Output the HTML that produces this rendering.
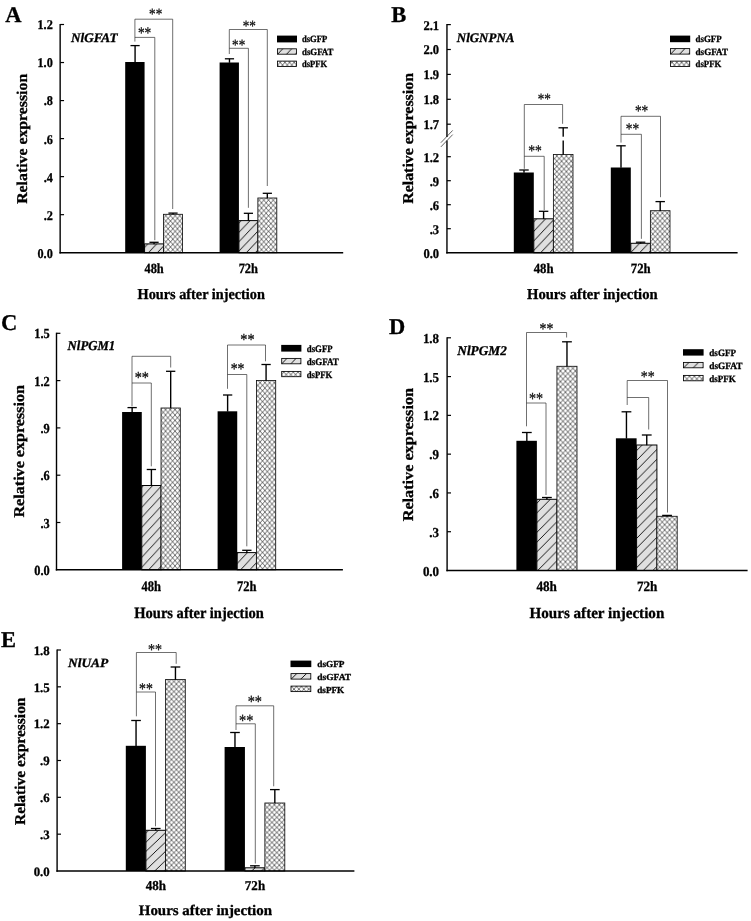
<!DOCTYPE html>
<html><head><meta charset="utf-8"><title>Figure</title>
<style>html,body{margin:0;padding:0;background:#fff}svg{display:block}</style></head><body>
<svg width="751" height="921" viewBox="0 0 751 921" font-family="'Liberation Serif',serif" font-weight="bold" text-rendering="geometricPrecision">
<rect width="751" height="921" fill="#fff"/>
<g id="panelA">
<pattern id="hA" patternUnits="userSpaceOnUse" width="8.90" height="9.40" patternTransform="translate(239.16,222.7)"><rect width="8.90" height="9.40" fill="#e0e0e0"/><path d="M-8.90 18.80L17.80 -9.40M0 18.80L26.70 -9.40M-17.80 18.80L8.90 -9.40" stroke="#000" stroke-width="0.9" fill="none"/></pattern>
<pattern id="cA" patternUnits="userSpaceOnUse" width="4.67" height="5.20" patternTransform="translate(0,0)"><rect width="4.67" height="5.20" fill="#fff"/><path d="M0 0L4.67 5.20M4.67 0L0 5.20" stroke="#2a2a2a" stroke-width="0.68" fill="none"/></pattern>
<text x="5.30" y="22.00" font-size="22.5" stroke="#000" stroke-width="0.3" fill="#000">A</text>
<text x="70.90" y="41.65" font-size="13.1" stroke="#000" stroke-width="0.3" font-style="italic" textLength="46.70" lengthAdjust="spacingAndGlyphs" fill="#000">NlGFAT</text>
<rect x="125.20" y="62.00" width="19.37" height="190.70" fill="#000"/>
<rect x="144.57" y="243.90" width="18.97" height="8.80" fill="url(#hA)" stroke="#000" stroke-width="1"/>
<rect x="163.53" y="214.30" width="18.97" height="38.40" fill="url(#cA)" stroke="#111" stroke-width="0.85"/>
<line x1="135.08" y1="45.60" x2="135.08" y2="62.30" stroke="#000" stroke-width="1.4" />
<line x1="130.48" y1="45.60" x2="139.68" y2="45.60" stroke="#000" stroke-width="1.3" />
<line x1="154.05" y1="242.30" x2="154.05" y2="244.20" stroke="#000" stroke-width="1.4" />
<line x1="149.45" y1="242.30" x2="158.65" y2="242.30" stroke="#000" stroke-width="1.3" />
<line x1="173.02" y1="213.10" x2="173.02" y2="214.60" stroke="#000" stroke-width="1.4" />
<line x1="168.42" y1="213.10" x2="177.62" y2="213.10" stroke="#000" stroke-width="1.3" />
<line x1="134.90" y1="19.20" x2="134.90" y2="41.60" stroke="#222" stroke-width="0.65" />
<polyline points="134.90,19.20 172.70,19.20 172.70,209.00" fill="none" stroke="#222" stroke-width="0.65"/>
<polyline points="134.90,37.40 154.80,37.40 154.80,240.20" fill="none" stroke="#222" stroke-width="0.65"/>
<text x="144.60" y="38.22" font-size="16.00" font-weight="normal" text-anchor="middle" textLength="13.40" lengthAdjust="spacingAndGlyphs" fill="#111" stroke="#111" stroke-width="0.3">**</text>
<text x="155.70" y="19.25" font-size="15.75" font-weight="normal" text-anchor="middle" textLength="13.19" lengthAdjust="spacingAndGlyphs" fill="#111" stroke="#111" stroke-width="0.3">**</text>
<rect x="219.60" y="62.50" width="19.33" height="190.20" fill="#000"/>
<rect x="238.93" y="220.60" width="18.93" height="32.10" fill="url(#hA)" stroke="#000" stroke-width="1"/>
<rect x="257.87" y="198.00" width="18.93" height="54.70" fill="url(#cA)" stroke="#111" stroke-width="0.85"/>
<line x1="229.47" y1="58.80" x2="229.47" y2="62.80" stroke="#000" stroke-width="1.4" />
<line x1="224.87" y1="58.80" x2="234.07" y2="58.80" stroke="#000" stroke-width="1.3" />
<line x1="248.40" y1="213.30" x2="248.40" y2="220.90" stroke="#000" stroke-width="1.4" />
<line x1="243.80" y1="213.30" x2="253.00" y2="213.30" stroke="#000" stroke-width="1.3" />
<line x1="267.33" y1="193.30" x2="267.33" y2="198.30" stroke="#000" stroke-width="1.4" />
<line x1="262.73" y1="193.30" x2="271.93" y2="193.30" stroke="#000" stroke-width="1.3" />
<line x1="229.30" y1="29.50" x2="229.30" y2="54.00" stroke="#222" stroke-width="0.65" />
<polyline points="229.30,29.50 267.30,29.50 267.30,186.00" fill="none" stroke="#222" stroke-width="0.65"/>
<polyline points="229.30,48.30 248.40,48.30 248.40,207.80" fill="none" stroke="#222" stroke-width="0.65"/>
<text x="238.70" y="50.45" font-size="15.75" font-weight="normal" text-anchor="middle" textLength="13.19" lengthAdjust="spacingAndGlyphs" fill="#111" stroke="#111" stroke-width="0.3">**</text>
<text x="249.30" y="31.45" font-size="15.75" font-weight="normal" text-anchor="middle" textLength="13.19" lengthAdjust="spacingAndGlyphs" fill="#111" stroke="#111" stroke-width="0.3">**</text>
<line x1="60.15" y1="23.90" x2="60.15" y2="253.40" stroke="#000" stroke-width="1.4" />
<line x1="59.45" y1="252.70" x2="343.20" y2="252.70" stroke="#000" stroke-width="1.4" />
<line x1="60.15" y1="24.50" x2="64.05" y2="24.50" stroke="#000" stroke-width="1.2" />
<text x="52.80" y="29.40" font-size="13.4" stroke="#000" stroke-width="0.3" text-anchor="end" textLength="15.27" lengthAdjust="spacingAndGlyphs" fill="#000">1.2</text>
<line x1="60.15" y1="62.53" x2="64.05" y2="62.53" stroke="#000" stroke-width="1.2" />
<text x="52.80" y="67.43" font-size="13.4" stroke="#000" stroke-width="0.3" text-anchor="end" textLength="15.27" lengthAdjust="spacingAndGlyphs" fill="#000">1.0</text>
<line x1="60.15" y1="100.57" x2="64.05" y2="100.57" stroke="#000" stroke-width="1.2" />
<text x="52.80" y="105.47" font-size="13.4" stroke="#000" stroke-width="0.3" text-anchor="end" textLength="9.16" lengthAdjust="spacingAndGlyphs" fill="#000">.8</text>
<line x1="60.15" y1="138.60" x2="64.05" y2="138.60" stroke="#000" stroke-width="1.2" />
<text x="52.80" y="143.50" font-size="13.4" stroke="#000" stroke-width="0.3" text-anchor="end" textLength="9.16" lengthAdjust="spacingAndGlyphs" fill="#000">.6</text>
<line x1="60.15" y1="176.63" x2="64.05" y2="176.63" stroke="#000" stroke-width="1.2" />
<text x="52.80" y="181.53" font-size="13.4" stroke="#000" stroke-width="0.3" text-anchor="end" textLength="9.16" lengthAdjust="spacingAndGlyphs" fill="#000">.4</text>
<line x1="60.15" y1="214.67" x2="64.05" y2="214.67" stroke="#000" stroke-width="1.2" />
<text x="52.80" y="219.57" font-size="13.4" stroke="#000" stroke-width="0.3" text-anchor="end" textLength="9.16" lengthAdjust="spacingAndGlyphs" fill="#000">.2</text>
<text x="52.80" y="257.60" font-size="13.4" stroke="#000" stroke-width="0.3" text-anchor="end" textLength="15.27" lengthAdjust="spacingAndGlyphs" fill="#000">0.0</text>
<text x="154.10" y="273.00" font-size="14.0" stroke="#000" stroke-width="0.3" text-anchor="middle" textLength="19.30" lengthAdjust="spacingAndGlyphs" fill="#000">48h</text>
<text x="248.30" y="273.00" font-size="14.0" stroke="#000" stroke-width="0.3" text-anchor="middle" textLength="19.30" lengthAdjust="spacingAndGlyphs" fill="#000">72h</text>
<text x="137.60" y="298.80" font-size="15.1" stroke="#000" stroke-width="0.3" textLength="127.30" lengthAdjust="spacingAndGlyphs" fill="#000">Hours after injection</text>
<text transform="translate(27.10,203.80) rotate(-90)" font-size="15" stroke="#000" stroke-width="0.3" textLength="130.00" lengthAdjust="spacingAndGlyphs" fill="#000">Relative expression</text>
<rect x="277.00" y="35.60" width="20.00" height="6.80" fill="#000"/>
<text x="302.00" y="42.20" font-size="9.5" stroke="#000" stroke-width="0.3" textLength="25.30" lengthAdjust="spacingAndGlyphs" fill="#000">dsGFP</text>
<pattern id="hlA" patternUnits="userSpaceOnUse" width="8.90" height="9.40" patternTransform="translate(277.90,44.50)"><rect width="8.90" height="9.40" fill="#e0e0e0"/><path d="M-8.90 18.80L17.80 -9.40M0 18.80L26.70 -9.40M-17.80 18.80L8.90 -9.40" stroke="#000" stroke-width="0.9" fill="none"/></pattern>
<rect x="277.50" y="48.80" width="19.00" height="5.40" fill="url(#hlA)" stroke="#000" stroke-width="0.85"/>
<text x="302.00" y="54.90" font-size="9.5" stroke="#000" stroke-width="0.3" textLength="31.40" lengthAdjust="spacingAndGlyphs" fill="#000">dsGFAT</text>
<rect x="277.50" y="61.10" width="19.00" height="5.40" fill="url(#cA)" stroke="#000" stroke-width="0.85"/>
<text x="302.00" y="67.20" font-size="9.5" stroke="#000" stroke-width="0.3" textLength="25.00" lengthAdjust="spacingAndGlyphs" fill="#000">dsPFK</text>
</g>
<g id="panelB">
<pattern id="hB" patternUnits="userSpaceOnUse" width="9.00" height="9.57" patternTransform="translate(534.07,221.5)"><rect width="9.00" height="9.57" fill="#e0e0e0"/><path d="M-9.00 19.14L18.00 -9.57M0 19.14L27.00 -9.57M-18.00 19.14L9.00 -9.57" stroke="#000" stroke-width="0.9" fill="none"/></pattern>
<pattern id="cB" patternUnits="userSpaceOnUse" width="4.80" height="5.20" patternTransform="translate(0,0)"><rect width="4.80" height="5.20" fill="#fff"/><path d="M0 0L4.80 5.20M4.80 0L0 5.20" stroke="#2a2a2a" stroke-width="0.68" fill="none"/></pattern>
<text x="391.30" y="22.00" font-size="22.5" stroke="#000" stroke-width="0.3" fill="#000">B</text>
<text x="456.80" y="41.65" font-size="13.1" stroke="#000" stroke-width="0.3" font-style="italic" textLength="57.60" lengthAdjust="spacingAndGlyphs" fill="#000">NlGNPNA</text>
<rect x="513.80" y="172.50" width="20.00" height="80.20" fill="#000"/>
<rect x="533.80" y="218.80" width="19.60" height="33.90" fill="url(#hB)" stroke="#000" stroke-width="1"/>
<rect x="553.40" y="154.50" width="19.60" height="98.20" fill="url(#cB)" stroke="#111" stroke-width="0.85"/>
<line x1="524.00" y1="170.00" x2="524.00" y2="172.80" stroke="#000" stroke-width="1.4" />
<line x1="519.28" y1="170.00" x2="528.72" y2="170.00" stroke="#000" stroke-width="1.3" />
<line x1="543.60" y1="211.30" x2="543.60" y2="219.10" stroke="#000" stroke-width="1.4" />
<line x1="538.88" y1="211.30" x2="548.32" y2="211.30" stroke="#000" stroke-width="1.3" />
<line x1="563.20" y1="127.80" x2="563.20" y2="154.80" stroke="#000" stroke-width="1.4" />
<line x1="558.48" y1="127.80" x2="567.92" y2="127.80" stroke="#000" stroke-width="1.3" />
<line x1="524.30" y1="104.50" x2="524.30" y2="168.80" stroke="#222" stroke-width="0.65" />
<polyline points="524.30,104.50 562.60,104.50 562.60,123.80" fill="none" stroke="#222" stroke-width="0.65"/>
<polyline points="524.30,156.30 544.20,156.30 544.20,210.00" fill="none" stroke="#222" stroke-width="0.65"/>
<text x="535.00" y="156.39" font-size="16.25" font-weight="normal" text-anchor="middle" textLength="13.61" lengthAdjust="spacingAndGlyphs" fill="#111" stroke="#111" stroke-width="0.3">**</text>
<text x="544.30" y="104.25" font-size="15.75" font-weight="normal" text-anchor="middle" textLength="13.19" lengthAdjust="spacingAndGlyphs" fill="#111" stroke="#111" stroke-width="0.3">**</text>
<rect x="610.80" y="167.50" width="20.00" height="85.20" fill="#000"/>
<rect x="630.80" y="243.30" width="19.60" height="9.40" fill="url(#hB)" stroke="#000" stroke-width="1"/>
<rect x="650.40" y="210.70" width="19.60" height="42.00" fill="url(#cB)" stroke="#111" stroke-width="0.85"/>
<line x1="621.00" y1="145.80" x2="621.00" y2="167.80" stroke="#000" stroke-width="1.4" />
<line x1="616.28" y1="145.80" x2="625.72" y2="145.80" stroke="#000" stroke-width="1.3" />
<line x1="640.60" y1="242.20" x2="640.60" y2="243.60" stroke="#000" stroke-width="1.4" />
<line x1="635.88" y1="242.20" x2="645.32" y2="242.20" stroke="#000" stroke-width="1.3" />
<line x1="660.20" y1="201.60" x2="660.20" y2="211.00" stroke="#000" stroke-width="1.4" />
<line x1="655.48" y1="201.60" x2="664.92" y2="201.60" stroke="#000" stroke-width="1.3" />
<line x1="621.00" y1="116.30" x2="621.00" y2="142.60" stroke="#222" stroke-width="0.65" />
<polyline points="621.00,116.30 660.50,116.30 660.50,197.20" fill="none" stroke="#222" stroke-width="0.65"/>
<polyline points="621.00,134.30 641.40,134.30 641.40,238.80" fill="none" stroke="#222" stroke-width="0.65"/>
<text x="632.40" y="133.82" font-size="16.00" font-weight="normal" text-anchor="middle" textLength="13.40" lengthAdjust="spacingAndGlyphs" fill="#111" stroke="#111" stroke-width="0.3">**</text>
<text x="641.60" y="116.32" font-size="16.00" font-weight="normal" text-anchor="middle" textLength="13.40" lengthAdjust="spacingAndGlyphs" fill="#111" stroke="#111" stroke-width="0.3">**</text>
<line x1="446.95" y1="24.00" x2="446.95" y2="137.00" stroke="#000" stroke-width="1.4" />
<line x1="446.95" y1="140.50" x2="446.95" y2="253.40" stroke="#000" stroke-width="1.4" />
<line x1="446.25" y1="252.70" x2="737.60" y2="252.70" stroke="#000" stroke-width="1.4" />
<rect x="561.20" y="136.70" width="4" height="3.80" fill="#fff"/>
<line x1="440.90" y1="142.70" x2="452.70" y2="130.40" stroke="#222" stroke-width="0.7" />
<line x1="440.90" y1="146.90" x2="452.70" y2="134.60" stroke="#222" stroke-width="0.7" />
<line x1="446.95" y1="24.60" x2="450.85" y2="24.60" stroke="#000" stroke-width="1.2" />
<text x="439.10" y="29.50" font-size="13.4" stroke="#000" stroke-width="0.3" text-anchor="end" textLength="15.69" lengthAdjust="spacingAndGlyphs" fill="#000">2.1</text>
<line x1="446.95" y1="49.50" x2="450.85" y2="49.50" stroke="#000" stroke-width="1.2" />
<text x="439.10" y="54.40" font-size="13.4" stroke="#000" stroke-width="0.3" text-anchor="end" textLength="15.69" lengthAdjust="spacingAndGlyphs" fill="#000">2.0</text>
<line x1="446.95" y1="74.40" x2="450.85" y2="74.40" stroke="#000" stroke-width="1.2" />
<text x="439.10" y="79.30" font-size="13.4" stroke="#000" stroke-width="0.3" text-anchor="end" textLength="15.69" lengthAdjust="spacingAndGlyphs" fill="#000">1.9</text>
<line x1="446.95" y1="99.30" x2="450.85" y2="99.30" stroke="#000" stroke-width="1.2" />
<text x="439.10" y="104.20" font-size="13.4" stroke="#000" stroke-width="0.3" text-anchor="end" textLength="15.69" lengthAdjust="spacingAndGlyphs" fill="#000">1.8</text>
<line x1="446.95" y1="124.20" x2="450.85" y2="124.20" stroke="#000" stroke-width="1.2" />
<text x="439.10" y="129.10" font-size="13.4" stroke="#000" stroke-width="0.3" text-anchor="end" textLength="15.69" lengthAdjust="spacingAndGlyphs" fill="#000">1.7</text>
<line x1="446.95" y1="156.70" x2="450.85" y2="156.70" stroke="#000" stroke-width="1.2" />
<text x="439.10" y="161.60" font-size="13.4" stroke="#000" stroke-width="0.3" text-anchor="end" textLength="15.69" lengthAdjust="spacingAndGlyphs" fill="#000">1.2</text>
<line x1="446.95" y1="180.70" x2="450.85" y2="180.70" stroke="#000" stroke-width="1.2" />
<text x="439.10" y="185.60" font-size="13.4" stroke="#000" stroke-width="0.3" text-anchor="end" textLength="9.41" lengthAdjust="spacingAndGlyphs" fill="#000">.9</text>
<line x1="446.95" y1="204.70" x2="450.85" y2="204.70" stroke="#000" stroke-width="1.2" />
<text x="439.10" y="209.60" font-size="13.4" stroke="#000" stroke-width="0.3" text-anchor="end" textLength="9.41" lengthAdjust="spacingAndGlyphs" fill="#000">.6</text>
<line x1="446.95" y1="228.70" x2="450.85" y2="228.70" stroke="#000" stroke-width="1.2" />
<text x="439.10" y="233.60" font-size="13.4" stroke="#000" stroke-width="0.3" text-anchor="end" textLength="9.41" lengthAdjust="spacingAndGlyphs" fill="#000">.3</text>
<text x="439.10" y="257.60" font-size="13.4" stroke="#000" stroke-width="0.3" text-anchor="end" textLength="15.69" lengthAdjust="spacingAndGlyphs" fill="#000">0.0</text>
<text x="543.60" y="273.00" font-size="14.0" stroke="#000" stroke-width="0.3" text-anchor="middle" textLength="19.82" lengthAdjust="spacingAndGlyphs" fill="#000">48h</text>
<text x="640.70" y="273.00" font-size="14.0" stroke="#000" stroke-width="0.3" text-anchor="middle" textLength="19.82" lengthAdjust="spacingAndGlyphs" fill="#000">72h</text>
<text x="527.00" y="298.80" font-size="15.1" stroke="#000" stroke-width="0.3" textLength="130.60" lengthAdjust="spacingAndGlyphs" fill="#000">Hours after injection</text>
<text transform="translate(413.00,203.80) rotate(-90)" font-size="15" stroke="#000" stroke-width="0.3" textLength="130.80" lengthAdjust="spacingAndGlyphs" fill="#000">Relative expression</text>
<rect x="670.00" y="35.60" width="20.20" height="6.60" fill="#000"/>
<text x="695.60" y="42.20" font-size="9.5" stroke="#000" stroke-width="0.3" textLength="26.06" lengthAdjust="spacingAndGlyphs" fill="#000">dsGFP</text>
<pattern id="hlB" patternUnits="userSpaceOnUse" width="9.00" height="9.57" patternTransform="translate(670.90,44.23)"><rect width="9.00" height="9.57" fill="#e0e0e0"/><path d="M-9.00 19.14L18.00 -9.57M0 19.14L27.00 -9.57M-18.00 19.14L9.00 -9.57" stroke="#000" stroke-width="0.9" fill="none"/></pattern>
<rect x="670.50" y="48.60" width="19.20" height="5.50" fill="url(#hlB)" stroke="#000" stroke-width="0.85"/>
<text x="695.60" y="54.80" font-size="9.5" stroke="#000" stroke-width="0.3" textLength="32.34" lengthAdjust="spacingAndGlyphs" fill="#000">dsGFAT</text>
<rect x="670.50" y="61.10" width="19.20" height="5.40" fill="url(#cB)" stroke="#000" stroke-width="0.85"/>
<text x="695.60" y="67.20" font-size="9.5" stroke="#000" stroke-width="0.3" textLength="25.75" lengthAdjust="spacingAndGlyphs" fill="#000">dsPFK</text>
</g>
<g id="panelC">
<pattern id="hC" patternUnits="userSpaceOnUse" width="9.20" height="10.00" patternTransform="translate(141.8,487.3)"><rect width="9.20" height="10.00" fill="#e0e0e0"/><path d="M-9.20 20.00L18.40 -10.00M0 20.00L27.60 -10.00M-18.40 20.00L9.20 -10.00" stroke="#000" stroke-width="0.9" fill="none"/></pattern>
<pattern id="cC" patternUnits="userSpaceOnUse" width="4.73" height="5.39" patternTransform="translate(0,0)"><rect width="4.73" height="5.39" fill="#fff"/><path d="M0 0L4.73 5.39M4.73 0L0 5.39" stroke="#2a2a2a" stroke-width="0.68" fill="none"/></pattern>
<text x="0.90" y="329.80" font-size="22.5" stroke="#000" stroke-width="0.3" fill="#000">C</text>
<text x="67.60" y="350.25" font-size="13.57" stroke="#000" stroke-width="0.3" font-style="italic" textLength="47.60" lengthAdjust="spacingAndGlyphs" fill="#000">NlPGM1</text>
<rect x="122.10" y="412.00" width="19.67" height="157.80" fill="#000"/>
<rect x="141.77" y="485.50" width="19.27" height="84.30" fill="url(#hC)" stroke="#000" stroke-width="1"/>
<rect x="161.03" y="408.00" width="19.27" height="161.80" fill="url(#cC)" stroke="#111" stroke-width="0.85"/>
<line x1="132.13" y1="407.60" x2="132.13" y2="412.30" stroke="#000" stroke-width="1.4" />
<line x1="127.48" y1="407.60" x2="136.79" y2="407.60" stroke="#000" stroke-width="1.3" />
<line x1="151.40" y1="469.50" x2="151.40" y2="485.80" stroke="#000" stroke-width="1.4" />
<line x1="146.74" y1="469.50" x2="156.06" y2="469.50" stroke="#000" stroke-width="1.3" />
<line x1="170.67" y1="371.30" x2="170.67" y2="408.30" stroke="#000" stroke-width="1.4" />
<line x1="166.01" y1="371.30" x2="175.32" y2="371.30" stroke="#000" stroke-width="1.3" />
<line x1="132.00" y1="356.30" x2="132.00" y2="406.30" stroke="#222" stroke-width="0.65" />
<polyline points="132.00,356.30 170.70,356.30 170.70,367.50" fill="none" stroke="#222" stroke-width="0.65"/>
<polyline points="132.00,383.00 151.30,383.00 151.30,466.30" fill="none" stroke="#222" stroke-width="0.65"/>
<text x="141.80" y="383.49" font-size="17.00" font-weight="normal" text-anchor="middle" textLength="14.24" lengthAdjust="spacingAndGlyphs" fill="#111" stroke="#111" stroke-width="0.3">**</text>
<rect x="217.60" y="411.30" width="19.63" height="158.50" fill="#000"/>
<rect x="237.23" y="552.60" width="19.23" height="17.20" fill="url(#hC)" stroke="#000" stroke-width="1"/>
<rect x="256.47" y="380.50" width="19.23" height="189.30" fill="url(#cC)" stroke="#111" stroke-width="0.85"/>
<line x1="227.62" y1="395.00" x2="227.62" y2="411.60" stroke="#000" stroke-width="1.4" />
<line x1="222.96" y1="395.00" x2="232.27" y2="395.00" stroke="#000" stroke-width="1.3" />
<line x1="246.85" y1="550.30" x2="246.85" y2="552.90" stroke="#000" stroke-width="1.4" />
<line x1="242.19" y1="550.30" x2="251.51" y2="550.30" stroke="#000" stroke-width="1.3" />
<line x1="266.08" y1="364.50" x2="266.08" y2="380.80" stroke="#000" stroke-width="1.4" />
<line x1="261.43" y1="364.50" x2="270.74" y2="364.50" stroke="#000" stroke-width="1.3" />
<line x1="227.50" y1="345.00" x2="227.50" y2="388.80" stroke="#222" stroke-width="0.65" />
<polyline points="227.50,345.00 265.50,345.00 265.50,361.30" fill="none" stroke="#222" stroke-width="0.65"/>
<polyline points="227.50,374.50 246.80,374.50 246.80,546.30" fill="none" stroke="#222" stroke-width="0.65"/>
<text x="237.60" y="374.45" font-size="16.50" font-weight="normal" text-anchor="middle" textLength="13.82" lengthAdjust="spacingAndGlyphs" fill="#111" stroke="#111" stroke-width="0.3">**</text>
<text x="247.40" y="345.09" font-size="17.00" font-weight="normal" text-anchor="middle" textLength="14.24" lengthAdjust="spacingAndGlyphs" fill="#111" stroke="#111" stroke-width="0.3">**</text>
<line x1="56.50" y1="332.70" x2="56.50" y2="570.50" stroke="#000" stroke-width="1.4" />
<line x1="55.80" y1="569.80" x2="342.90" y2="569.80" stroke="#000" stroke-width="1.4" />
<line x1="56.50" y1="333.30" x2="60.40" y2="333.30" stroke="#000" stroke-width="1.2" />
<text x="49.70" y="338.38" font-size="13.88" stroke="#000" stroke-width="0.3" text-anchor="end" textLength="15.46" lengthAdjust="spacingAndGlyphs" fill="#000">1.5</text>
<line x1="56.50" y1="380.60" x2="60.40" y2="380.60" stroke="#000" stroke-width="1.2" />
<text x="49.70" y="385.68" font-size="13.88" stroke="#000" stroke-width="0.3" text-anchor="end" textLength="15.46" lengthAdjust="spacingAndGlyphs" fill="#000">1.2</text>
<line x1="56.50" y1="427.90" x2="60.40" y2="427.90" stroke="#000" stroke-width="1.2" />
<text x="49.70" y="432.98" font-size="13.88" stroke="#000" stroke-width="0.3" text-anchor="end" textLength="9.27" lengthAdjust="spacingAndGlyphs" fill="#000">.9</text>
<line x1="56.50" y1="475.20" x2="60.40" y2="475.20" stroke="#000" stroke-width="1.2" />
<text x="49.70" y="480.28" font-size="13.88" stroke="#000" stroke-width="0.3" text-anchor="end" textLength="9.27" lengthAdjust="spacingAndGlyphs" fill="#000">.6</text>
<line x1="56.50" y1="522.50" x2="60.40" y2="522.50" stroke="#000" stroke-width="1.2" />
<text x="49.70" y="527.58" font-size="13.88" stroke="#000" stroke-width="0.3" text-anchor="end" textLength="9.27" lengthAdjust="spacingAndGlyphs" fill="#000">.3</text>
<text x="49.70" y="574.88" font-size="13.88" stroke="#000" stroke-width="0.3" text-anchor="end" textLength="15.46" lengthAdjust="spacingAndGlyphs" fill="#000">0.0</text>
<text x="151.20" y="590.50" font-size="14.5" stroke="#000" stroke-width="0.3" text-anchor="middle" textLength="19.53" lengthAdjust="spacingAndGlyphs" fill="#000">48h</text>
<text x="246.70" y="590.50" font-size="14.5" stroke="#000" stroke-width="0.3" text-anchor="middle" textLength="19.53" lengthAdjust="spacingAndGlyphs" fill="#000">72h</text>
<text x="134.30" y="617.50" font-size="15.64" stroke="#000" stroke-width="0.3" textLength="129.50" lengthAdjust="spacingAndGlyphs" fill="#000">Hours after injection</text>
<text transform="translate(24.40,517.50) rotate(-90)" font-size="15" stroke="#000" stroke-width="0.3" textLength="132.50" lengthAdjust="spacingAndGlyphs" fill="#000">Relative expression</text>
<rect x="281.20" y="344.90" width="20.20" height="6.70" fill="#000"/>
<text x="306.80" y="351.50" font-size="9.84" stroke="#000" stroke-width="0.3" textLength="25.81" lengthAdjust="spacingAndGlyphs" fill="#000">dsGFP</text>
<pattern id="hlC" patternUnits="userSpaceOnUse" width="9.20" height="10.00" patternTransform="translate(282.10,353.50)"><rect width="9.20" height="10.00" fill="#e0e0e0"/><path d="M-9.20 20.00L18.40 -10.00M0 20.00L27.60 -10.00M-18.40 20.00L9.20 -10.00" stroke="#000" stroke-width="0.9" fill="none"/></pattern>
<rect x="281.70" y="358.40" width="19.20" height="5.40" fill="url(#hlC)" stroke="#000" stroke-width="0.85"/>
<text x="306.80" y="364.50" font-size="9.84" stroke="#000" stroke-width="0.3" textLength="32.03" lengthAdjust="spacingAndGlyphs" fill="#000">dsGFAT</text>
<rect x="281.70" y="371.40" width="19.20" height="5.30" fill="url(#cC)" stroke="#000" stroke-width="0.85"/>
<text x="306.80" y="377.50" font-size="9.84" stroke="#000" stroke-width="0.3" textLength="25.50" lengthAdjust="spacingAndGlyphs" fill="#000">dsPFK</text>
</g>
<g id="panelD">
<pattern id="hD" patternUnits="userSpaceOnUse" width="9.60" height="9.75" patternTransform="translate(637.0,450.2)"><rect width="9.60" height="9.75" fill="#e0e0e0"/><path d="M-9.60 19.50L19.20 -9.75M0 19.50L28.80 -9.75M-19.20 19.50L9.60 -9.75" stroke="#000" stroke-width="0.9" fill="none"/></pattern>
<pattern id="cD" patternUnits="userSpaceOnUse" width="4.96" height="5.30" patternTransform="translate(0,0)"><rect width="4.96" height="5.30" fill="#fff"/><path d="M0 0L4.96 5.30M4.96 0L0 5.30" stroke="#2a2a2a" stroke-width="0.68" fill="none"/></pattern>
<text x="388.90" y="334.40" font-size="22.5" stroke="#000" stroke-width="0.3" fill="#000">D</text>
<text x="457.30" y="355.25" font-size="13.36" stroke="#000" stroke-width="0.3" font-style="italic" textLength="49.50" lengthAdjust="spacingAndGlyphs" fill="#000">NlPGM2</text>
<rect x="516.40" y="440.80" width="20.47" height="129.70" fill="#000"/>
<rect x="536.87" y="499.30" width="20.07" height="71.20" fill="url(#hD)" stroke="#000" stroke-width="1"/>
<rect x="556.93" y="366.30" width="20.07" height="204.20" fill="url(#cD)" stroke="#111" stroke-width="0.85"/>
<line x1="526.83" y1="432.50" x2="526.83" y2="441.10" stroke="#000" stroke-width="1.4" />
<line x1="521.95" y1="432.50" x2="531.72" y2="432.50" stroke="#000" stroke-width="1.3" />
<line x1="546.90" y1="497.50" x2="546.90" y2="499.60" stroke="#000" stroke-width="1.4" />
<line x1="542.01" y1="497.50" x2="551.79" y2="497.50" stroke="#000" stroke-width="1.3" />
<line x1="566.97" y1="341.80" x2="566.97" y2="366.60" stroke="#000" stroke-width="1.4" />
<line x1="562.08" y1="341.80" x2="571.85" y2="341.80" stroke="#000" stroke-width="1.3" />
<line x1="526.50" y1="332.50" x2="526.50" y2="426.30" stroke="#222" stroke-width="0.65" />
<polyline points="526.50,332.50 566.60,332.50 566.60,337.50" fill="none" stroke="#222" stroke-width="0.65"/>
<polyline points="526.50,403.00 546.00,403.00 546.00,495.00" fill="none" stroke="#222" stroke-width="0.65"/>
<text x="536.05" y="404.06" font-size="16.88" font-weight="normal" text-anchor="middle" textLength="14.13" lengthAdjust="spacingAndGlyphs" fill="#111" stroke="#111" stroke-width="0.3">**</text>
<text x="546.40" y="333.76" font-size="16.50" font-weight="normal" text-anchor="middle" textLength="13.82" lengthAdjust="spacingAndGlyphs" fill="#111" stroke="#111" stroke-width="0.3">**</text>
<rect x="615.90" y="438.30" width="20.70" height="132.20" fill="#000"/>
<rect x="636.60" y="445.00" width="20.30" height="125.50" fill="url(#hD)" stroke="#000" stroke-width="1"/>
<rect x="656.90" y="516.30" width="20.30" height="54.20" fill="url(#cD)" stroke="#111" stroke-width="0.85"/>
<line x1="626.45" y1="411.80" x2="626.45" y2="438.60" stroke="#000" stroke-width="1.4" />
<line x1="621.56" y1="411.80" x2="631.34" y2="411.80" stroke="#000" stroke-width="1.3" />
<line x1="646.75" y1="435.00" x2="646.75" y2="445.30" stroke="#000" stroke-width="1.4" />
<line x1="641.86" y1="435.00" x2="651.64" y2="435.00" stroke="#000" stroke-width="1.3" />
<line x1="667.05" y1="515.40" x2="667.05" y2="516.60" stroke="#000" stroke-width="1.4" />
<line x1="662.16" y1="515.40" x2="671.94" y2="515.40" stroke="#000" stroke-width="1.3" />
<line x1="627.20" y1="380.50" x2="627.20" y2="405.00" stroke="#222" stroke-width="0.65" />
<polyline points="627.20,380.50 667.50,380.50 667.50,512.50" fill="none" stroke="#222" stroke-width="0.65"/>
<polyline points="627.20,397.50 648.70,397.50 648.70,429.50" fill="none" stroke="#222" stroke-width="0.65"/>
<text x="647.65" y="382.49" font-size="16.62" font-weight="normal" text-anchor="middle" textLength="13.92" lengthAdjust="spacingAndGlyphs" fill="#111" stroke="#111" stroke-width="0.3">**</text>
<line x1="447.10" y1="337.20" x2="447.10" y2="571.20" stroke="#000" stroke-width="1.4" />
<line x1="446.40" y1="570.50" x2="747.60" y2="570.50" stroke="#000" stroke-width="1.4" />
<line x1="447.10" y1="337.80" x2="451.00" y2="337.80" stroke="#000" stroke-width="1.2" />
<text x="439.10" y="342.80" font-size="13.67" stroke="#000" stroke-width="0.3" text-anchor="end" textLength="16.22" lengthAdjust="spacingAndGlyphs" fill="#000">1.8</text>
<line x1="447.10" y1="376.58" x2="451.00" y2="376.58" stroke="#000" stroke-width="1.2" />
<text x="439.10" y="381.58" font-size="13.67" stroke="#000" stroke-width="0.3" text-anchor="end" textLength="16.22" lengthAdjust="spacingAndGlyphs" fill="#000">1.5</text>
<line x1="447.10" y1="415.37" x2="451.00" y2="415.37" stroke="#000" stroke-width="1.2" />
<text x="439.10" y="420.36" font-size="13.67" stroke="#000" stroke-width="0.3" text-anchor="end" textLength="16.22" lengthAdjust="spacingAndGlyphs" fill="#000">1.2</text>
<line x1="447.10" y1="454.15" x2="451.00" y2="454.15" stroke="#000" stroke-width="1.2" />
<text x="439.10" y="459.15" font-size="13.67" stroke="#000" stroke-width="0.3" text-anchor="end" textLength="9.73" lengthAdjust="spacingAndGlyphs" fill="#000">.9</text>
<line x1="447.10" y1="492.93" x2="451.00" y2="492.93" stroke="#000" stroke-width="1.2" />
<text x="439.10" y="497.93" font-size="13.67" stroke="#000" stroke-width="0.3" text-anchor="end" textLength="9.73" lengthAdjust="spacingAndGlyphs" fill="#000">.6</text>
<line x1="447.10" y1="531.72" x2="451.00" y2="531.72" stroke="#000" stroke-width="1.2" />
<text x="439.10" y="536.71" font-size="13.67" stroke="#000" stroke-width="0.3" text-anchor="end" textLength="9.73" lengthAdjust="spacingAndGlyphs" fill="#000">.3</text>
<text x="439.10" y="575.50" font-size="13.67" stroke="#000" stroke-width="0.3" text-anchor="end" textLength="16.22" lengthAdjust="spacingAndGlyphs" fill="#000">0.0</text>
<text x="546.70" y="591.20" font-size="14.28" stroke="#000" stroke-width="0.3" text-anchor="middle" textLength="20.50" lengthAdjust="spacingAndGlyphs" fill="#000">48h</text>
<text x="647.20" y="591.20" font-size="14.28" stroke="#000" stroke-width="0.3" text-anchor="middle" textLength="20.50" lengthAdjust="spacingAndGlyphs" fill="#000">72h</text>
<text x="529.50" y="617.50" font-size="15.4" stroke="#000" stroke-width="0.3" textLength="134.80" lengthAdjust="spacingAndGlyphs" fill="#000">Hours after injection</text>
<text transform="translate(413.40,521.30) rotate(-90)" font-size="15" stroke="#000" stroke-width="0.3" textLength="133.30" lengthAdjust="spacingAndGlyphs" fill="#000">Relative expression</text>
<rect x="683.00" y="349.20" width="20.60" height="6.40" fill="#000"/>
<text x="709.30" y="355.50" font-size="9.69" stroke="#000" stroke-width="0.3" textLength="26.82" lengthAdjust="spacingAndGlyphs" fill="#000">dsGFP</text>
<pattern id="hlD" patternUnits="userSpaceOnUse" width="9.60" height="9.75" patternTransform="translate(683.90,357.75)"><rect width="9.60" height="9.75" fill="#e0e0e0"/><path d="M-9.60 19.50L19.20 -9.75M0 19.50L28.80 -9.75M-19.20 19.50L9.60 -9.75" stroke="#000" stroke-width="0.9" fill="none"/></pattern>
<rect x="683.50" y="362.40" width="19.60" height="5.40" fill="url(#hlD)" stroke="#000" stroke-width="0.85"/>
<text x="709.30" y="368.50" font-size="9.69" stroke="#000" stroke-width="0.3" textLength="33.28" lengthAdjust="spacingAndGlyphs" fill="#000">dsGFAT</text>
<rect x="683.50" y="375.40" width="19.60" height="5.40" fill="url(#cD)" stroke="#000" stroke-width="0.85"/>
<text x="709.30" y="381.50" font-size="9.69" stroke="#000" stroke-width="0.3" textLength="26.50" lengthAdjust="spacingAndGlyphs" fill="#000">dsPFK</text>
</g>
<g id="panelE">
<pattern id="hE" patternUnits="userSpaceOnUse" width="9.70" height="9.30" patternTransform="translate(146.3,841.8)"><rect width="9.70" height="9.30" fill="#e0e0e0"/><path d="M-9.70 18.60L19.40 -9.30M0 18.60L29.10 -9.30M-19.40 18.60L9.70 -9.30" stroke="#000" stroke-width="0.9" fill="none"/></pattern>
<pattern id="cE" patternUnits="userSpaceOnUse" width="4.90" height="5.03" patternTransform="translate(0,0)"><rect width="4.90" height="5.03" fill="#fff"/><path d="M0 0L4.90 5.03M4.90 0L0 5.03" stroke="#2a2a2a" stroke-width="0.68" fill="none"/></pattern>
<text x="0.90" y="647.00" font-size="22.5" stroke="#000" stroke-width="0.3" fill="#000">E</text>
<text x="68.00" y="666.55" font-size="12.68" stroke="#000" stroke-width="0.3" font-style="italic" textLength="40.30" lengthAdjust="spacingAndGlyphs" fill="#000">NlUAP</text>
<rect x="125.80" y="745.80" width="20.10" height="125.20" fill="#000"/>
<rect x="145.90" y="830.30" width="19.70" height="40.70" fill="url(#hE)" stroke="#000" stroke-width="1"/>
<rect x="165.60" y="679.50" width="19.70" height="191.50" fill="url(#cE)" stroke="#111" stroke-width="0.85"/>
<line x1="136.05" y1="720.50" x2="136.05" y2="746.10" stroke="#000" stroke-width="1.4" />
<line x1="131.22" y1="720.50" x2="140.88" y2="720.50" stroke="#000" stroke-width="1.3" />
<line x1="155.75" y1="828.50" x2="155.75" y2="830.60" stroke="#000" stroke-width="1.4" />
<line x1="150.92" y1="828.50" x2="160.58" y2="828.50" stroke="#000" stroke-width="1.3" />
<line x1="175.45" y1="667.00" x2="175.45" y2="679.80" stroke="#000" stroke-width="1.4" />
<line x1="170.62" y1="667.00" x2="180.28" y2="667.00" stroke="#000" stroke-width="1.3" />
<line x1="136.40" y1="652.50" x2="136.40" y2="716.30" stroke="#222" stroke-width="0.65" />
<polyline points="136.40,652.50 176.20,652.50 176.20,663.80" fill="none" stroke="#222" stroke-width="0.65"/>
<polyline points="136.40,692.00 155.50,692.00 155.50,826.30" fill="none" stroke="#222" stroke-width="0.65"/>
<text x="145.90" y="693.96" font-size="16.50" font-weight="normal" text-anchor="middle" textLength="13.82" lengthAdjust="spacingAndGlyphs" fill="#111" stroke="#111" stroke-width="0.3">**</text>
<text x="155.00" y="655.02" font-size="16.75" font-weight="normal" text-anchor="middle" textLength="14.03" lengthAdjust="spacingAndGlyphs" fill="#111" stroke="#111" stroke-width="0.3">**</text>
<rect x="224.60" y="747.00" width="20.33" height="124.00" fill="#000"/>
<rect x="244.93" y="867.80" width="19.93" height="3.20" fill="url(#hE)" stroke="#000" stroke-width="1"/>
<rect x="264.87" y="803.00" width="19.93" height="68.00" fill="url(#cE)" stroke="#111" stroke-width="0.85"/>
<line x1="234.97" y1="732.50" x2="234.97" y2="747.30" stroke="#000" stroke-width="1.4" />
<line x1="230.14" y1="732.50" x2="239.80" y2="732.50" stroke="#000" stroke-width="1.3" />
<line x1="254.90" y1="865.80" x2="254.90" y2="868.10" stroke="#000" stroke-width="1.4" />
<line x1="250.07" y1="865.80" x2="259.73" y2="865.80" stroke="#000" stroke-width="1.3" />
<line x1="274.83" y1="789.60" x2="274.83" y2="803.30" stroke="#000" stroke-width="1.4" />
<line x1="270.00" y1="789.60" x2="279.66" y2="789.60" stroke="#000" stroke-width="1.3" />
<line x1="236.00" y1="705.80" x2="236.00" y2="730.00" stroke="#222" stroke-width="0.65" />
<polyline points="236.00,705.80 273.70,705.80 273.70,786.30" fill="none" stroke="#222" stroke-width="0.65"/>
<polyline points="236.00,723.80 255.30,723.80 255.30,863.50" fill="none" stroke="#222" stroke-width="0.65"/>
<text x="246.15" y="725.92" font-size="17.12" font-weight="normal" text-anchor="middle" textLength="14.34" lengthAdjust="spacingAndGlyphs" fill="#111" stroke="#111" stroke-width="0.3">**</text>
<text x="254.85" y="706.62" font-size="17.12" font-weight="normal" text-anchor="middle" textLength="14.34" lengthAdjust="spacingAndGlyphs" fill="#111" stroke="#111" stroke-width="0.3">**</text>
<line x1="57.10" y1="649.40" x2="57.10" y2="871.70" stroke="#000" stroke-width="1.4" />
<line x1="56.40" y1="871.00" x2="354.40" y2="871.00" stroke="#000" stroke-width="1.4" />
<line x1="57.10" y1="650.00" x2="61.00" y2="650.00" stroke="#000" stroke-width="1.2" />
<text x="49.70" y="654.74" font-size="12.97" stroke="#000" stroke-width="0.3" text-anchor="end" textLength="16.04" lengthAdjust="spacingAndGlyphs" fill="#000">1.8</text>
<line x1="57.10" y1="686.83" x2="61.00" y2="686.83" stroke="#000" stroke-width="1.2" />
<text x="49.70" y="691.58" font-size="12.97" stroke="#000" stroke-width="0.3" text-anchor="end" textLength="16.04" lengthAdjust="spacingAndGlyphs" fill="#000">1.5</text>
<line x1="57.10" y1="723.67" x2="61.00" y2="723.67" stroke="#000" stroke-width="1.2" />
<text x="49.70" y="728.41" font-size="12.97" stroke="#000" stroke-width="0.3" text-anchor="end" textLength="16.04" lengthAdjust="spacingAndGlyphs" fill="#000">1.2</text>
<line x1="57.10" y1="760.50" x2="61.00" y2="760.50" stroke="#000" stroke-width="1.2" />
<text x="49.70" y="765.24" font-size="12.97" stroke="#000" stroke-width="0.3" text-anchor="end" textLength="9.62" lengthAdjust="spacingAndGlyphs" fill="#000">.9</text>
<line x1="57.10" y1="797.33" x2="61.00" y2="797.33" stroke="#000" stroke-width="1.2" />
<text x="49.70" y="802.08" font-size="12.97" stroke="#000" stroke-width="0.3" text-anchor="end" textLength="9.62" lengthAdjust="spacingAndGlyphs" fill="#000">.6</text>
<line x1="57.10" y1="834.17" x2="61.00" y2="834.17" stroke="#000" stroke-width="1.2" />
<text x="49.70" y="838.91" font-size="12.97" stroke="#000" stroke-width="0.3" text-anchor="end" textLength="9.62" lengthAdjust="spacingAndGlyphs" fill="#000">.3</text>
<text x="49.70" y="875.74" font-size="12.97" stroke="#000" stroke-width="0.3" text-anchor="end" textLength="16.04" lengthAdjust="spacingAndGlyphs" fill="#000">0.0</text>
<text x="155.90" y="890.30" font-size="13.55" stroke="#000" stroke-width="0.3" text-anchor="middle" textLength="20.27" lengthAdjust="spacingAndGlyphs" fill="#000">48h</text>
<text x="255.00" y="890.30" font-size="13.55" stroke="#000" stroke-width="0.3" text-anchor="middle" textLength="20.27" lengthAdjust="spacingAndGlyphs" fill="#000">72h</text>
<text x="138.80" y="915.30" font-size="14.62" stroke="#000" stroke-width="0.3" textLength="133.20" lengthAdjust="spacingAndGlyphs" fill="#000">Hours after injection</text>
<text transform="translate(24.80,825.00) rotate(-90)" font-size="15" stroke="#000" stroke-width="0.3" textLength="127.50" lengthAdjust="spacingAndGlyphs" fill="#000">Relative expression</text>
<rect x="290.50" y="660.60" width="20.80" height="6.50" fill="#000"/>
<text x="317.30" y="667.40" font-size="9.2" stroke="#000" stroke-width="0.3" textLength="27.20" lengthAdjust="spacingAndGlyphs" fill="#000">dsGFP</text>
<pattern id="hlE" patternUnits="userSpaceOnUse" width="9.70" height="9.30" patternTransform="translate(291.40,669.50)"><rect width="9.70" height="9.30" fill="#e0e0e0"/><path d="M-9.70 18.60L19.40 -9.30M0 18.60L29.10 -9.30M-19.40 18.60L9.70 -9.30" stroke="#000" stroke-width="0.9" fill="none"/></pattern>
<rect x="291.00" y="673.60" width="19.80" height="5.50" fill="url(#hlE)" stroke="#000" stroke-width="0.85"/>
<text x="317.30" y="680.00" font-size="9.2" stroke="#000" stroke-width="0.3" textLength="33.75" lengthAdjust="spacingAndGlyphs" fill="#000">dsGFAT</text>
<rect x="291.00" y="686.10" width="19.80" height="5.50" fill="url(#cE)" stroke="#000" stroke-width="0.85"/>
<text x="317.30" y="692.50" font-size="9.2" stroke="#000" stroke-width="0.3" textLength="26.88" lengthAdjust="spacingAndGlyphs" fill="#000">dsPFK</text>
</g>
</svg></body></html>
